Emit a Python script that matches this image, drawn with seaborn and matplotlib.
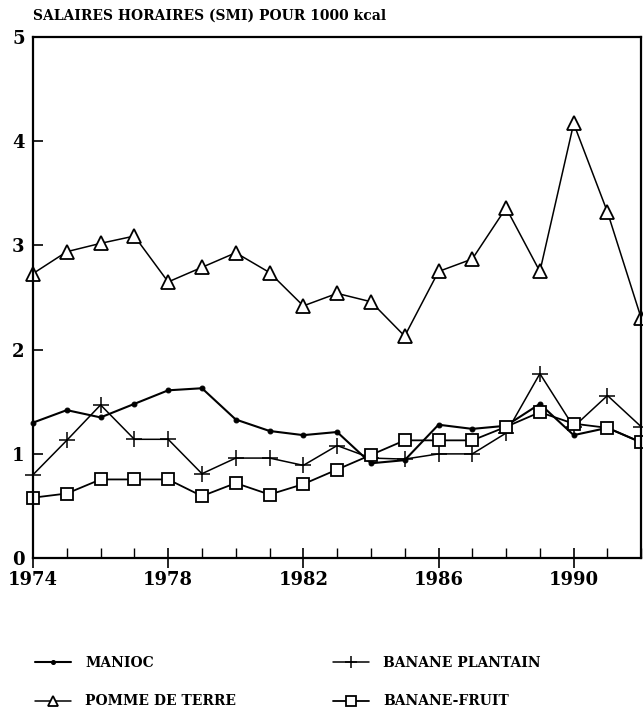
import numpy as np
import pandas as pd
import matplotlib
matplotlib.use("Agg")
import matplotlib.pyplot as plt
from matplotlib.lines import Line2D
from matplotlib.ticker import MultipleLocator
import seaborn as sns

years = list(range(1974, 1993))
manioc = [1.30, 1.42, 1.35, 1.48, 1.61, 1.63, 1.33, 1.22, 1.18, 1.21, 0.91, 0.94,
          1.28, 1.24, 1.27, 1.48, 1.18, 1.25, 1.11]
pomme = [2.73, 2.94, 3.02, 3.09, 2.65, 2.79, 2.93, 2.74, 2.42, 2.54, 2.46, 2.13,
         2.75, 2.87, 3.36, 2.75, 4.17, 3.32, 2.30]
plantain = [0.80, 1.13, 1.47, 1.14, 1.14, 0.81, 0.96, 0.96, 0.89, 1.08, 0.96, 0.95,
            1.00, 1.00, 1.20, 1.77, 1.26, 1.56, 1.26]
fruit = [0.58, 0.62, 0.755, 0.755, 0.755, 0.595, 0.72, 0.61, 0.71, 0.85, 0.99, 1.13,
         1.13, 1.13, 1.26, 1.40, 1.29, 1.25, 1.11]
labels = ["MANIOC", "POMME DE TERRE", "BANANE PLANTAIN", "BANANE-FRUIT"]
title = "SALAIRES HORAIRES (SMI) POUR 1000 kcal"

sns.set_style("ticks")
plt.rcParams['font.family'] = ['DejaVu Serif']
plt.rcParams['font.weight'] = 'bold'
for k in ['text.color', 'axes.labelcolor', 'xtick.color', 'ytick.color', 'axes.edgecolor']:
    plt.rcParams[k] = 'black'

fig = plt.figure(figsize=(6.43, 7.11), dpi=100)
ax = fig.add_axes([0.0513, 0.215, 0.946, 0.733])

series = [
    (manioc, labels[0], dict(marker='o', markersize=3.5, markerfacecolor='black', lw=1.5)),
    (pomme, labels[1], dict(marker='^', markersize=10, markerfacecolor='white', markeredgewidth=1.3, lw=1.1)),
    (plantain, labels[2], dict(marker='+', markersize=12, markeredgewidth=1.1, lw=1.1)),
    (fruit, labels[3], dict(marker='s', markersize=9, markerfacecolor='white', markeredgewidth=1.3, lw=1.3)),
]
handles = []
for vals, lab, kw in series:
    df = pd.DataFrame({"year": years, "val": vals})
    sns.lineplot(data=df, x="year", y="val", ax=ax, color='black',
                 markeredgecolor='black', clip_on=False, **kw)
    hk = dict(kw)
    hk['markersize'] = kw['markersize'] * 0.75
    handles.append(Line2D([0], [0], color='black', markeredgecolor='black', **hk))

ax.set_xlim(1974, 1992)
ax.set_ylim(0, 5)
ax.set_xlabel("")
ax.set_ylabel("")
ax.set_xticks([1974, 1978, 1982, 1986, 1990])
ax.xaxis.set_minor_locator(MultipleLocator(1))
ax.set_yticks([0, 1, 2, 3, 4, 5])
ax.tick_params(axis='x', which='major', direction='inout', length=14, width=1.2,
               labelsize=13, pad=2, colors='black')
ax.tick_params(axis='x', which='minor', direction='in', length=7, width=1.0, colors='black')
ax.tick_params(axis='y', which='major', direction='in', length=7, width=1.2,
               labelsize=13, pad=6, colors='black')
for lab in ax.get_xticklabels() + ax.get_yticklabels():
    lab.set_fontweight('bold')
for sp in ax.spines.values():
    sp.set_visible(True)
    sp.set_linewidth(1.6)
    sp.set_color('black')

fig.text(0.0513, 0.978, title, fontsize=10, fontweight='bold', ha='left', va='center',
         color='black')

leg = fig.legend(handles, labels, ncol=2, loc='lower left', bbox_to_anchor=(0.035, -0.014),
                 frameon=False, prop={'size': 10, 'weight': 'bold'},
                 handlelength=2.6, columnspacing=7.0, labelspacing=1.75, handletextpad=1.0)
for t in leg.get_texts():
    t.set_color('black')

fig.savefig("out.png", dpi=100)
